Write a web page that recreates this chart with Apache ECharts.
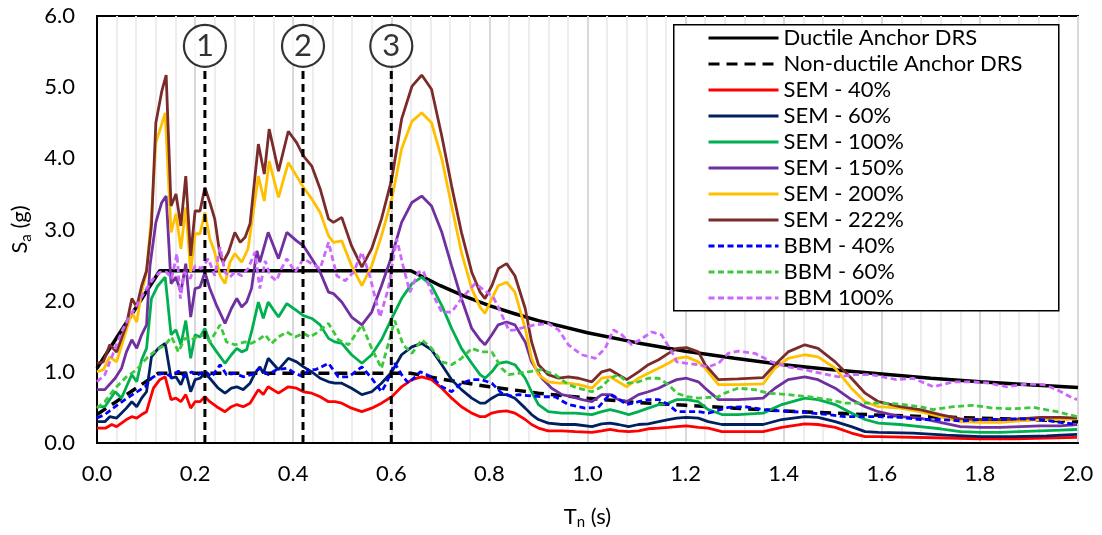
<!DOCTYPE html>
<html><head><meta charset="utf-8">
<script src="https://cdn.jsdelivr.net/npm/echarts@6/dist/echarts.min.js"></script>
<style>html,body{margin:0;padding:0;background:#fff}#c{width:1102px;height:535px}</style>
</head><body><div id="c"></div>
<script>
// ---------- data (T [s], Sa [g]) ----------
const xTicks = [0.0,0.2,0.4,0.6,0.8,1.0,1.2,1.4,1.6,1.8,2.0];
const yTicks = [0.0,1.0,2.0,3.0,4.0,5.0,6.0];

const ductileDRS = [[0,1.05],[0.128,2.42],[0.64,2.42],[0.68,2.28],[0.70,2.21],[0.75,2.06],[0.80,1.93],[0.85,1.82],[0.90,1.72],[1.00,1.55],[1.10,1.41],[1.20,1.29],[1.30,1.19],[1.40,1.10],[1.50,1.03],[1.60,0.97],[1.70,0.91],[1.80,0.86],[1.90,0.82],[2.00,0.78]];
const nonDuctileDRS = [[0,0.40],[0.125,0.98],[0.64,0.98],[0.70,0.90],[0.80,0.79],[0.90,0.70],[1.00,0.63],[1.10,0.57],[1.20,0.53],[1.30,0.49],[1.40,0.45],[1.50,0.42],[1.60,0.39],[1.70,0.37],[1.80,0.35],[1.90,0.33],[2.00,0.30]];

const sem40 = [[0,0.21],[0.018,0.21],[0.030,0.26],[0.040,0.23],[0.060,0.33],[0.071,0.37],[0.081,0.35],[0.091,0.40],[0.101,0.44],[0.115,0.77],[0.128,0.89],[0.139,0.93],[0.151,0.61],[0.161,0.63],[0.171,0.58],[0.181,0.68],[0.191,0.49],[0.200,0.58],[0.210,0.58],[0.220,0.65],[0.230,0.58],[0.244,0.51],[0.261,0.44],[0.274,0.51],[0.285,0.54],[0.298,0.51],[0.312,0.56],[0.329,0.75],[0.339,0.68],[0.349,0.79],[0.370,0.70],[0.390,0.79],[0.407,0.77],[0.421,0.72],[0.438,0.70],[0.455,0.65],[0.472,0.58],[0.485,0.58],[0.499,0.56],[0.519,0.49],[0.540,0.44],[0.560,0.49],[0.580,0.56],[0.601,0.65],[0.621,0.79],[0.642,0.89],[0.662,0.93],[0.682,0.89],[0.703,0.77],[0.723,0.63],[0.743,0.51],[0.764,0.42],[0.781,0.37],[0.791,0.37],[0.805,0.42],[0.818,0.44],[0.835,0.45],[0.852,0.42],[0.873,0.33],[0.886,0.26],[0.900,0.21],[0.920,0.17],[0.948,0.17],[0.975,0.16],[1.009,0.15],[1.029,0.17],[1.046,0.19],[1.063,0.17],[1.084,0.16],[1.104,0.17],[1.124,0.20],[1.145,0.21],[1.165,0.22],[1.182,0.23],[1.202,0.24],[1.226,0.22],[1.246,0.21],[1.274,0.16],[1.358,0.16],[1.396,0.22],[1.443,0.27],[1.470,0.26],[1.505,0.22],[1.538,0.14],[1.566,0.09],[1.593,0.09],[1.732,0.07],[1.801,0.06],[1.868,0.06],[1.936,0.07],[1.998,0.08]];
const sem60 = [[0,0.30],[0.016,0.30],[0.026,0.37],[0.040,0.35],[0.060,0.49],[0.071,0.58],[0.081,0.51],[0.091,0.63],[0.101,0.72],[0.111,1.21],[0.125,1.33],[0.139,1.40],[0.151,0.91],[0.161,0.93],[0.171,0.82],[0.181,1.00],[0.191,0.72],[0.200,0.89],[0.210,0.91],[0.220,0.98],[0.230,0.91],[0.247,0.77],[0.261,0.70],[0.274,0.77],[0.285,0.79],[0.298,0.75],[0.312,0.84],[0.322,0.98],[0.332,1.07],[0.339,0.98],[0.349,1.19],[0.370,1.03],[0.390,1.19],[0.407,1.14],[0.421,1.07],[0.438,1.00],[0.455,0.91],[0.472,0.86],[0.485,0.84],[0.499,0.84],[0.519,0.77],[0.540,0.68],[0.560,0.72],[0.580,0.84],[0.601,1.00],[0.621,1.24],[0.642,1.35],[0.662,1.40],[0.682,1.31],[0.703,1.10],[0.723,0.89],[0.743,0.75],[0.764,0.63],[0.781,0.56],[0.791,0.56],[0.805,0.63],[0.818,0.68],[0.835,0.68],[0.852,0.63],[0.873,0.49],[0.886,0.40],[0.900,0.33],[0.920,0.28],[0.948,0.26],[0.975,0.26],[1.009,0.23],[1.029,0.27],[1.046,0.28],[1.063,0.26],[1.084,0.23],[1.104,0.26],[1.124,0.27],[1.145,0.30],[1.165,0.33],[1.182,0.35],[1.202,0.36],[1.226,0.35],[1.246,0.30],[1.274,0.26],[1.358,0.26],[1.396,0.33],[1.443,0.37],[1.470,0.36],[1.505,0.30],[1.538,0.23],[1.566,0.16],[1.593,0.15],[1.664,0.14],[1.732,0.11],[1.801,0.09],[1.868,0.09],[1.936,0.10],[1.998,0.12]];
const sem100 = [[0,0.51],[0.016,0.51],[0.037,0.72],[0.050,0.63],[0.060,0.79],[0.071,0.96],[0.081,0.86],[0.091,1.17],[0.101,1.33],[0.111,2.03],[0.124,2.21],[0.139,2.33],[0.151,1.52],[0.161,1.59],[0.171,1.38],[0.181,1.72],[0.191,1.19],[0.200,1.52],[0.210,1.49],[0.220,1.61],[0.230,1.42],[0.244,1.28],[0.261,1.12],[0.274,1.24],[0.285,1.33],[0.295,1.28],[0.305,1.31],[0.315,1.56],[0.329,1.98],[0.339,1.75],[0.349,1.98],[0.370,1.77],[0.387,1.96],[0.407,1.86],[0.421,1.79],[0.438,1.75],[0.455,1.66],[0.472,1.47],[0.485,1.42],[0.499,1.40],[0.519,1.24],[0.540,1.12],[0.560,1.24],[0.580,1.45],[0.601,1.75],[0.621,2.03],[0.642,2.24],[0.662,2.33],[0.682,2.21],[0.703,1.93],[0.723,1.61],[0.743,1.33],[0.764,1.12],[0.781,0.96],[0.791,0.91],[0.805,1.00],[0.818,1.12],[0.835,1.14],[0.852,1.10],[0.873,0.91],[0.886,0.72],[0.900,0.54],[0.920,0.44],[0.948,0.42],[0.975,0.42],[1.009,0.40],[1.029,0.44],[1.046,0.47],[1.063,0.44],[1.084,0.40],[1.104,0.44],[1.124,0.49],[1.145,0.54],[1.165,0.56],[1.182,0.61],[1.202,0.61],[1.226,0.58],[1.246,0.47],[1.274,0.40],[1.307,0.40],[1.358,0.42],[1.396,0.54],[1.443,0.63],[1.470,0.61],[1.505,0.54],[1.538,0.42],[1.566,0.33],[1.593,0.28],[1.637,0.26],[1.678,0.23],[1.719,0.20],[1.760,0.16],[1.801,0.15],[1.841,0.15],[1.882,0.16],[1.923,0.17],[1.964,0.18],[1.998,0.19]];
const sem150 = [[0,0.75],[0.016,0.75],[0.037,0.91],[0.050,1.05],[0.060,1.28],[0.071,1.45],[0.081,1.33],[0.091,1.52],[0.101,1.66],[0.108,2.49],[0.120,3.10],[0.132,3.38],[0.141,3.47],[0.151,2.24],[0.161,2.33],[0.171,2.12],[0.181,2.52],[0.191,1.77],[0.200,2.17],[0.210,2.19],[0.220,2.40],[0.230,2.17],[0.244,1.93],[0.261,1.68],[0.274,1.89],[0.285,2.03],[0.295,1.91],[0.305,1.98],[0.315,2.17],[0.326,2.70],[0.332,2.54],[0.349,2.96],[0.370,2.59],[0.387,2.96],[0.407,2.84],[0.421,2.77],[0.438,2.59],[0.455,2.40],[0.472,2.12],[0.482,2.10],[0.499,1.98],[0.519,1.77],[0.540,1.66],[0.560,1.84],[0.580,2.21],[0.601,2.63],[0.621,3.10],[0.642,3.38],[0.662,3.47],[0.682,3.33],[0.703,2.96],[0.723,2.49],[0.743,2.03],[0.764,1.61],[0.781,1.45],[0.791,1.38],[0.805,1.52],[0.818,1.66],[0.835,1.70],[0.852,1.66],[0.873,1.42],[0.886,1.14],[0.907,0.91],[0.927,0.77],[0.948,0.68],[0.968,0.65],[0.989,0.61],[1.009,0.58],[1.029,0.68],[1.046,0.68],[1.063,0.61],[1.080,0.58],[1.104,0.68],[1.124,0.72],[1.145,0.77],[1.165,0.84],[1.182,0.89],[1.202,0.91],[1.226,0.86],[1.240,0.77],[1.267,0.61],[1.307,0.61],[1.358,0.63],[1.382,0.77],[1.409,0.89],[1.443,0.93],[1.470,0.89],[1.505,0.77],[1.538,0.61],[1.566,0.51],[1.593,0.44],[1.637,0.37],[1.678,0.35],[1.719,0.29],[1.760,0.23],[1.801,0.22],[1.841,0.22],[1.882,0.23],[1.923,0.24],[1.964,0.24],[1.998,0.26]];
const sem200 = [[0,1.00],[0.013,1.03],[0.026,1.21],[0.040,1.14],[0.060,1.59],[0.071,1.84],[0.081,1.70],[0.091,2.12],[0.101,2.40],[0.111,3.19],[0.120,4.22],[0.132,4.48],[0.139,4.64],[0.151,2.96],[0.161,3.22],[0.171,2.73],[0.181,3.31],[0.191,2.40],[0.200,2.94],[0.210,2.94],[0.220,3.24],[0.230,2.87],[0.240,2.68],[0.251,2.35],[0.261,2.24],[0.271,2.54],[0.281,2.66],[0.295,2.54],[0.308,2.73],[0.329,3.75],[0.341,3.40],[0.351,3.96],[0.370,3.45],[0.390,3.94],[0.407,3.75],[0.421,3.59],[0.438,3.43],[0.455,3.24],[0.472,2.91],[0.482,2.82],[0.499,2.84],[0.519,2.49],[0.540,2.21],[0.560,2.49],[0.580,2.91],[0.601,3.43],[0.621,4.13],[0.642,4.52],[0.662,4.64],[0.682,4.50],[0.703,3.99],[0.723,3.33],[0.743,2.68],[0.764,2.17],[0.781,1.91],[0.791,1.82],[0.805,2.03],[0.818,2.21],[0.835,2.26],[0.852,2.12],[0.873,1.61],[0.886,1.19],[0.900,0.96],[0.920,0.86],[0.941,0.84],[0.961,0.84],[0.982,0.82],[1.009,0.77],[1.029,0.91],[1.046,0.93],[1.063,0.86],[1.080,0.79],[1.104,0.91],[1.124,0.98],[1.145,1.05],[1.165,1.12],[1.182,1.19],[1.202,1.21],[1.226,1.14],[1.240,1.05],[1.267,0.82],[1.307,0.82],[1.358,0.83],[1.382,1.05],[1.409,1.19],[1.443,1.24],[1.470,1.21],[1.505,1.05],[1.538,0.77],[1.566,0.58],[1.593,0.51],[1.637,0.49],[1.678,0.44],[1.719,0.37],[1.760,0.30],[1.801,0.29],[1.841,0.29],[1.882,0.31],[1.923,0.33],[1.964,0.33],[1.998,0.34]];
const sem222 = [[0,1.12],[0.013,1.14],[0.026,1.38],[0.040,1.28],[0.060,1.66],[0.071,2.03],[0.081,1.91],[0.091,2.21],[0.101,2.42],[0.111,3.05],[0.120,4.50],[0.132,4.94],[0.141,5.17],[0.151,3.33],[0.161,3.50],[0.171,3.05],[0.181,3.75],[0.191,2.63],[0.200,3.26],[0.210,3.26],[0.220,3.59],[0.230,3.38],[0.240,3.15],[0.251,2.63],[0.257,2.54],[0.268,2.68],[0.281,2.96],[0.292,2.82],[0.302,2.89],[0.312,3.08],[0.329,4.20],[0.341,3.78],[0.351,4.41],[0.370,3.82],[0.390,4.38],[0.407,4.22],[0.421,4.03],[0.438,3.89],[0.455,3.57],[0.472,3.15],[0.482,3.10],[0.499,3.17],[0.519,2.77],[0.540,2.47],[0.560,2.73],[0.580,3.15],[0.601,3.71],[0.621,4.55],[0.642,5.01],[0.662,5.17],[0.682,4.97],[0.703,4.31],[0.723,3.61],[0.743,2.96],[0.764,2.40],[0.781,2.12],[0.791,2.03],[0.805,2.21],[0.818,2.45],[0.835,2.52],[0.852,2.35],[0.873,1.89],[0.886,1.42],[0.900,1.10],[0.920,0.96],[0.941,0.91],[0.961,0.93],[0.982,0.91],[1.009,0.86],[1.029,1.00],[1.046,1.03],[1.063,0.96],[1.080,0.89],[1.104,1.00],[1.124,1.10],[1.145,1.17],[1.165,1.26],[1.182,1.33],[1.202,1.34],[1.226,1.28],[1.240,1.10],[1.267,0.89],[1.307,0.90],[1.358,0.92],[1.382,1.10],[1.409,1.28],[1.443,1.38],[1.470,1.33],[1.505,1.14],[1.538,0.91],[1.566,0.70],[1.593,0.58],[1.637,0.51],[1.678,0.47],[1.719,0.40],[1.760,0.34],[1.801,0.33],[1.841,0.33],[1.882,0.34],[1.923,0.36],[1.964,0.36],[1.998,0.35]];
const bbm40 = [[0,0.35],[0.016,0.40],[0.037,0.51],[0.057,0.61],[0.077,0.70],[0.098,0.79],[0.111,0.91],[0.122,0.96],[0.139,0.98],[0.152,0.93],[0.166,1.01],[0.179,0.93],[0.193,1.00],[0.203,0.95],[0.220,1.01],[0.234,0.93],[0.251,1.10],[0.264,0.96],[0.281,0.98],[0.298,0.93],[0.315,0.96],[0.332,1.05],[0.349,0.96],[0.366,1.03],[0.387,1.05],[0.404,0.98],[0.421,0.93],[0.431,1.03],[0.445,1.03],[0.458,1.07],[0.472,1.12],[0.492,0.93],[0.513,0.93],[0.540,1.07],[0.560,0.91],[0.580,0.72],[0.590,0.84],[0.607,1.12],[0.621,0.96],[0.635,0.84],[0.659,1.00],[0.682,0.93],[0.703,0.79],[0.723,0.72],[0.743,0.84],[0.764,0.89],[0.784,0.89],[0.805,0.84],[0.825,0.70],[0.845,0.66],[0.860,0.68],[0.886,0.66],[0.907,0.65],[0.934,0.65],[0.961,0.54],[0.995,0.49],[1.022,0.50],[1.046,0.69],[1.063,0.62],[1.080,0.54],[1.104,0.58],[1.124,0.61],[1.145,0.61],[1.165,0.54],[1.182,0.44],[1.202,0.44],[1.226,0.44],[1.246,0.42],[1.267,0.46],[1.287,0.50],[1.321,0.51],[1.358,0.47],[1.396,0.45],[1.443,0.43],[1.491,0.40],[1.525,0.37],[1.593,0.37],[1.637,0.36],[1.678,0.33],[1.719,0.33],[1.760,0.31],[1.801,0.33],[1.841,0.33],[1.882,0.34],[1.923,0.33],[1.964,0.29],[1.998,0.26]];
const bbm60 = [[0,0.49],[0.016,0.58],[0.037,0.77],[0.060,0.93],[0.081,1.03],[0.101,1.19],[0.122,1.31],[0.139,1.38],[0.152,1.49],[0.166,1.28],[0.179,1.47],[0.193,1.45],[0.203,1.49],[0.220,1.52],[0.230,1.42],[0.251,1.66],[0.264,1.42],[0.281,1.38],[0.302,1.42],[0.315,1.40],[0.329,1.45],[0.343,1.52],[0.356,1.40],[0.370,1.49],[0.387,1.56],[0.404,1.49],[0.421,1.54],[0.434,1.49],[0.451,1.56],[0.472,1.68],[0.492,1.45],[0.513,1.38],[0.540,1.66],[0.560,1.33],[0.580,1.05],[0.607,1.72],[0.624,1.38],[0.642,1.26],[0.662,1.45],[0.682,1.33],[0.703,1.14],[0.723,1.10],[0.743,1.19],[0.764,1.33],[0.784,1.28],[0.805,1.28],[0.825,1.05],[0.839,0.96],[0.859,0.98],[0.879,1.00],[0.906,1.03],[0.934,0.96],[0.961,0.82],[0.981,0.77],[1.009,0.72],[1.029,0.79],[1.046,0.91],[1.063,0.96],[1.083,0.84],[1.104,0.86],[1.124,0.91],[1.145,0.91],[1.165,0.82],[1.182,0.70],[1.202,0.65],[1.226,0.63],[1.267,0.65],[1.280,0.70],[1.307,0.77],[1.341,0.75],[1.368,0.70],[1.409,0.68],[1.450,0.65],[1.491,0.61],[1.525,0.56],[1.593,0.56],[1.630,0.55],[1.678,0.51],[1.705,0.47],[1.746,0.51],[1.787,0.53],[1.827,0.49],[1.868,0.48],[1.909,0.50],[1.957,0.44],[1.998,0.37]];
const bbm100 = [[0,0.86],[0.016,0.96],[0.037,1.33],[0.050,1.56],[0.064,1.75],[0.081,1.93],[0.101,2.17],[0.115,2.31],[0.128,2.40],[0.142,2.40],[0.152,2.31],[0.163,2.66],[0.170,2.03],[0.178,2.40],[0.190,2.31],[0.200,2.49],[0.213,2.45],[0.227,2.59],[0.240,2.35],[0.251,2.75],[0.261,2.40],[0.271,2.33],[0.281,2.40],[0.295,2.35],[0.308,2.45],[0.322,2.68],[0.332,2.17],[0.343,2.56],[0.353,2.35],[0.366,2.28],[0.376,2.45],[0.387,2.59],[0.404,2.40],[0.421,2.59],[0.438,2.52],[0.455,2.45],[0.472,2.82],[0.489,2.35],[0.506,2.28],[0.523,2.40],[0.540,2.68],[0.556,2.35],[0.577,1.77],[0.594,2.17],[0.611,2.87],[0.624,2.49],[0.638,2.12],[0.655,2.40],[0.665,2.42],[0.682,2.12],[0.703,1.84],[0.723,1.84],[0.743,2.03],[0.771,2.24],[0.791,2.14],[0.808,2.05],[0.822,1.85],[0.840,1.58],[0.852,1.59],[0.873,1.63],[0.893,1.66],[0.920,1.68],[0.941,1.59],[0.961,1.38],[0.988,1.24],[1.016,1.19],[1.036,1.33],[1.053,1.59],[1.070,1.52],[1.090,1.38],[1.107,1.45],[1.131,1.56],[1.151,1.52],[1.172,1.28],[1.182,1.14],[1.202,1.12],[1.226,1.10],[1.246,1.07],[1.267,1.12],[1.287,1.26],[1.307,1.29],[1.341,1.26],[1.375,1.14],[1.409,1.07],[1.443,1.03],[1.477,0.98],[1.511,0.93],[1.545,0.96],[1.579,0.96],[1.630,0.89],[1.664,0.91],[1.705,0.79],[1.746,0.86],[1.787,0.86],[1.820,0.84],[1.855,0.79],[1.896,0.83],[1.930,0.82],[1.957,0.75],[1.984,0.65],[1.998,0.61]];

const markerT = [0.22, 0.42, 0.60];
const markerLabels = ['1', '2', '3'];

// ---------- chart ----------
const FONT = 'Lato, "Noto Sans", sans-serif';
const MARK_TOP = 5.29, MARK_CIRCLE = 5.58;

const seriesDefs = [
  {name:'Ductile Anchor DRS', data:ductileDRS, color:'#000000', width:3.5, type:'solid'},
  {name:'Non-ductile Anchor DRS', data:nonDuctileDRS, color:'#000000', width:3.5, type:[11,7]},
  {name:'SEM - 40%', data:sem40, color:'#FF0000', width:2.8, type:'solid'},
  {name:'SEM - 60%', data:sem60, color:'#002060', width:2.8, type:'solid'},
  {name:'SEM - 100%', data:sem100, color:'#00B050', width:2.8, type:'solid'},
  {name:'SEM - 150%', data:sem150, color:'#7030A0', width:2.8, type:'solid'},
  {name:'SEM - 200%', data:sem200, color:'#FFC000', width:2.8, type:'solid'},
  {name:'SEM - 222%', data:sem222, color:'#7B2C2A', width:2.8, type:'solid'},
  {name:'BBM - 40%', data:bbm40, color:'#0000FF', width:2.8, type:[6,3.5]},
  {name:'BBM - 60%', data:bbm60, color:'#3CC83C', width:2.8, type:[6,3.5]},
  {name:'BBM 100%', data:bbm100, color:'#CC66FF', width:2.8, type:[6,3.5]}
];

const series = seriesDefs.map(d => ({
  name: d.name, type: 'line', data: d.data, symbol: 'none', showSymbol: false, smooth: false,
  lineStyle: {color: d.color, width: d.width, type: d.type},
  itemStyle: {color: d.color}, emphasis: {disabled: true}, z: 2
}));

markerT.forEach(t => {
  series.push({
    type: 'line', data: [[t, 0], [t, MARK_TOP]], symbol: 'none', silent: true,
    lineStyle: {color: '#000', width: 3, type: [8, 5]}, z: 3
  });
});
series.push({
  type: 'scatter', silent: true, z: 4,
  data: markerT.map(t => [t, MARK_CIRCLE]),
  symbol: 'circle', symbolSize: 42,
  itemStyle: {color: '#fff', borderColor: '#000', borderWidth: 2.2},
  label: {show: true, position: 'inside', formatter: p => markerLabels[p.dataIndex],
          fontFamily: FONT, fontSize: 31, color: '#000'}
});

const chart = echarts.init(document.getElementById('c'));
chart.setOption({
  animation: false,
  backgroundColor: '#fff',
  textStyle: {fontFamily: FONT},
  grid: {left: 97, right: 24, top: 16, bottom: 90, show: true, borderColor: '#000', borderWidth: 2, backgroundColor: 'transparent'},
  xAxis: {
    type: 'value', min: xTicks[0], max: xTicks[xTicks.length-1], interval: 0.2,
    axisLine: {show: true, lineStyle: {color: '#000', width: 2}},
    axisTick: {show: false},
    axisLabel: {formatter: v => v.toFixed(1), fontSize: 22, color: '#000', margin: 20, fontFamily: FONT},
    splitLine: {show: true, lineStyle: {color: '#D9D9D9', width: 2}},
    minorSplitLine: {show: true, lineStyle: {color: '#EDEDED', width: 2}},
    minorTick: {show: false, splitNumber: 5},
    name: 'T{sub|n} (s)', nameLocation: 'middle', nameGap: 60,
    nameTextStyle: {fontSize: 22, color: '#000', fontFamily: FONT,
      rich: {sub: {fontSize: 15, fontFamily: FONT, color: '#000', verticalAlign: 'bottom', padding: [12, 0, 0, 0]}}}
  },
  yAxis: {
    type: 'value', min: yTicks[0], max: yTicks[yTicks.length-1], interval: 1,
    axisLine: {show: true, lineStyle: {color: '#000', width: 2}},
    axisTick: {show: false},
    axisLabel: {formatter: v => v.toFixed(1), fontSize: 22, color: '#000', margin: 22, fontFamily: FONT},
    splitLine: {show: false},
    name: 'S{sub|a} (g)', nameLocation: 'middle', nameGap: 58, nameRotate: 90,
    nameTextStyle: {fontSize: 22, color: '#000', fontFamily: FONT,
      rich: {sub: {fontSize: 15, fontFamily: FONT, color: '#000', verticalAlign: 'bottom', padding: [12, 0, 0, 0]}}}
  },
  graphic: [{
    type: 'rect', left: 673, top: 24, z: 5, silent: true,
    shape: {width: 385, height: 286},
    style: {fill: '#fff', stroke: '#000', lineWidth: 1.5}
  }],
  legend: {
    data: seriesDefs.map(d => d.name),
    orient: 'vertical', left: 707, top: 25, z: 10,
    itemWidth: 70, itemHeight: 14, itemGap: 0, padding: 0,
    itemStyle: {opacity: 0, borderWidth: 0},
    lineStyle: {width: 3},
    textStyle: {fontSize: 22, color: '#000', fontFamily: FONT, lineHeight: 26, height: 26},
    selectedMode: false
  },
  series: series
});
</script></body></html>
